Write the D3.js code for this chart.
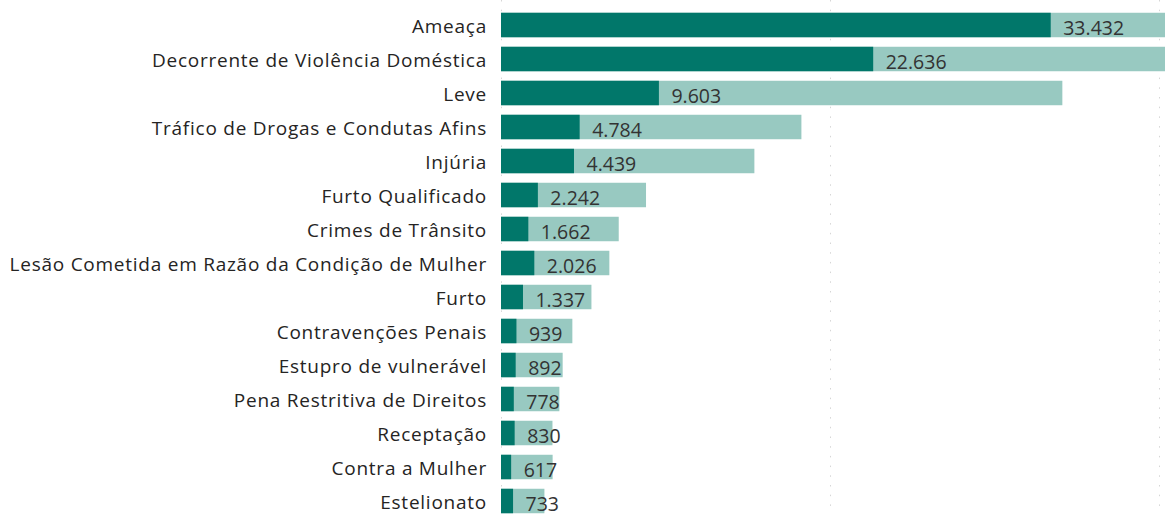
<!DOCTYPE html>
<html>
<head>
<meta charset="utf-8">
<script src="https://cdn.jsdelivr.net/npm/d3@7"></script>
<style>
  body { margin: 0; background: #fff; }
  .catText { font-family: "Segoe UI", "Open Sans", sans-serif; font-size: 19px; letter-spacing: 0.75px; fill: #252423; }
  .valText { font-family: "Segoe UI", "Open Sans", sans-serif; font-size: 19.5px; fill: #333; }
</style>
</head>
<body>
<div id="chart"></div>
<script>
//===============================
//  1.  Data
//===============================

var categories = [
  "Ameaça",
  "Decorrente de Violência Doméstica",
  "Leve",
  "Tráfico de Drogas e Condutas Afins",
  "Injúria",
  "Furto Qualificado",
  "Crimes de Trânsito",
  "Lesão Cometida em Razão da Condição de Mulher",
  "Furto",
  "Contravenções Penais",
  "Estupro de vulnerável",
  "Pena Restritiva de Direitos",
  "Receptação",
  "Contra a Mulher",
  "Estelionato"
];

// dark bars (labelled values)
var darkValues = [33432, 22636, 9603, 4784, 4439, 2242, 1662, 2026, 1337, 939, 892, 778, 830, 617, 733];

// light bars behind (first two run past the edge)
var lightValues = [46000, 42000, 34140, 18270, 15410, 8820, 7160, 6590, 5500, 4340, 3750, 3550, 3130, 3140, 2640];

var gridTicks = [0, 20000, 40000];

//===============================
//  2.  Set up Chart Area
//===============================

var svgWidth = 1165;
var svgHeight = 514;

var svg = d3.select("#chart")
  .append("svg")
  .attr("width", svgWidth)
  .attr("height", svgHeight);

var data = categories.map((c, i) => ({ cat: c, dark: darkValues[i], light: lightValues[i] }));

// x: 0 sits at 501px, 40000 at ~1159px
var xScale = d3.scaleLinear()
  .domain([0, 40000])
  .range([501, 1158.7]);

var yScale = d3.scaleBand()
  .domain(categories)
  .range([8, 518])
  .paddingInner(0.28)
  .paddingOuter(0.14);

//===============================
//  3.  Gridlines
//===============================

svg.append("g")
  .selectAll("line")
  .data(gridTicks)
  .enter()
  .append("line")
  .attr("x1", d => Math.round(xScale(d)) + 0.5)
  .attr("x2", d => Math.round(xScale(d)) + 0.5)
  .attr("y1", 0)
  .attr("y2", svgHeight)
  .attr("stroke", "#d6d6d6")
  .attr("stroke-width", 1)
  .attr("stroke-dasharray", "1.5,8.2");

//===============================
//  4.  Bars
//===============================

svg.append("g")
  .selectAll("rect")
  .data(data)
  .enter()
  .append("rect")
  .attr("x", xScale(0))
  .attr("y", d => yScale(d.cat))
  .attr("width", d => xScale(d.light) - xScale(0))
  .attr("height", yScale.bandwidth())
  .attr("fill", "#98c9c1");

svg.append("g")
  .selectAll("rect")
  .data(data)
  .enter()
  .append("rect")
  .attr("x", xScale(0))
  .attr("y", d => yScale(d.cat))
  .attr("width", d => xScale(d.dark) - xScale(0))
  .attr("height", yScale.bandwidth())
  .attr("fill", "#01776a");

//===============================
//  5.  Labels
//===============================

var fmt = d3.formatLocale({ decimal: ",", thousands: ".", grouping: [3], currency: ["R$", ""] }).format(",d");

svg.append("g")
  .selectAll("text")
  .data(data)
  .enter()
  .append("text")
  .classed("catText", true)
  .attr("x", 487)
  .attr("y", d => yScale(d.cat) + yScale.bandwidth() / 2 + 8)
  .attr("text-anchor", "end")
  .text(d => d.cat);

svg.append("g")
  .selectAll("text")
  .data(data)
  .enter()
  .append("text")
  .classed("valText", true)
  .attr("x", d => xScale(d.dark) + 12.5)
  .attr("y", d => yScale(d.cat) + yScale.bandwidth() / 2 + 10)
  .text(d => fmt(d.dark));
</script>
</body>
</html>
